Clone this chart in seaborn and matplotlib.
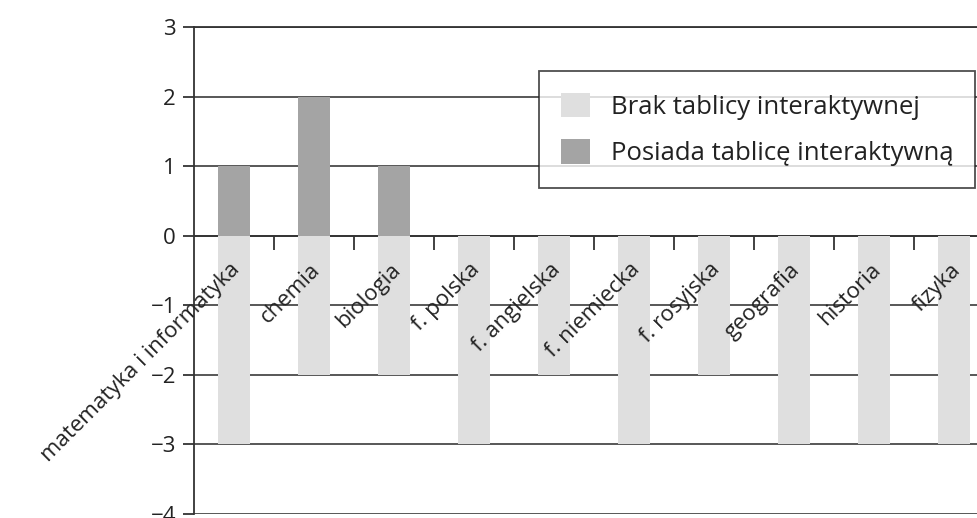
import pandas as pd
import matplotlib.pyplot as plt
import matplotlib.transforms as mtransforms
import seaborn as sns

sns.set_theme(style="white")
plt.rcParams['font.family'] = ['Open Sans', 'DejaVu Sans']

# data
subjects = ["matematyka i informatyka", "chemia", "biologia", "f. polska",
            "f. angielska", "f. niemiecka", "f. rosyjska", "geografia",
            "historia", "fizyka"]
has_board = [1, 2, 1, 0, 0, 0, 0, 0, 0, 0]
no_board = [-3, -2, -2, -3, -2, -3, -2, -3, -3, -3]
y_ticks = [-4, -3, -2, -1, 0, 1, 2, 3]

lab_no = "Brak tablicy interaktywnej"
lab_yes = "Posiada tablicę interaktywną"

df = pd.concat([
    pd.DataFrame({"przedmiot": subjects, "liczba": no_board, "grupa": lab_no}),
    pd.DataFrame({"przedmiot": subjects, "liczba": has_board, "grupa": lab_yes}),
])

fig = plt.figure(figsize=(9.77, 5.18), dpi=100)
ax = fig.add_axes([0.1986, 0.0077, 0.819, 0.940])

# grid drawn by hand so that it sits under the bars while tick labels stay on top
for y in y_ticks:
    ax.axhline(y, color="#4a4a4a", linewidth=1.3, zorder=0.3)

sns.barplot(data=df, x="przedmiot", y="liczba", hue="grupa",
            hue_order=[lab_no, lab_yes], palette=["#dfdfdf", "#a4a4a4"],
            dodge=False, width=0.4, saturation=1, linewidth=0, ax=ax)
ax.set_axisbelow(False)

ax.set_ylim(-4, 3)
ax.set_xlim(-0.5, len(subjects) - 0.5)
ax.set_yticks(y_ticks)
ax.set_xlabel("")
ax.set_ylabel("")

for side in ["top", "left", "bottom", "right"]:
    ax.spines[side].set_color("#333333")
    ax.spines[side].set_linewidth(1.3)
    ax.spines[side].set_zorder(0.4)
ax.spines["bottom"].set_position(("data", 0))

ax.tick_params(axis="y", left=True, length=8, width=1.3, color="#333333",
               labelsize=16, labelcolor="#222222", pad=5)
ax.set_xticks([i + 0.5 for i in range(len(subjects) - 1)], minor=True)
ax.tick_params(axis="x", which="major", bottom=False, length=0, pad=0)
ax.tick_params(axis="x", which="minor", bottom=True, direction="out",
               length=10, width=1.3, color="#333333")
ax.set_xticklabels(subjects, rotation=45, ha="right", va="center",
                   rotation_mode="anchor", fontsize=16, color="#222222")
offset = mtransforms.ScaledTranslation(0.03, -0.31, fig.dpi_scale_trans)
for lbl in ax.get_xticklabels():
    lbl.set_transform(lbl.get_transform() + offset)

leg = ax.legend(loc="upper right", bbox_to_anchor=(0.976, 0.91),
                fontsize=18.5, frameon=True, fancybox=False,
                handlelength=1.15, handleheight=1.1, handletextpad=0.78,
                borderpad=0.85, labelspacing=0.75, borderaxespad=0)
leg.get_frame().set_edgecolor("#222222")
leg.get_frame().set_linewidth(1.3)
for t in leg.get_texts():
    t.set_color("#222222")

fig.savefig("out.png", dpi=100)
